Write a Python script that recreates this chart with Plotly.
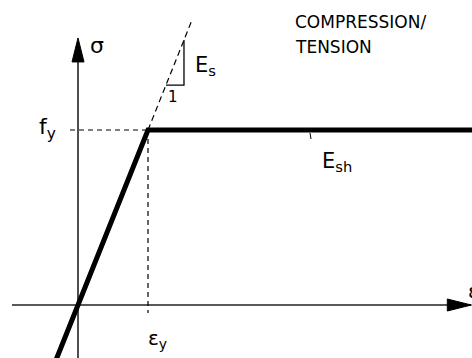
import plotly.graph_objects as go

# Elastic - perfectly plastic steel law, normalised so that eps_y = f_y = 1
eps_y = 1.0
f_y = 1.0
law_strain = [-0.4, 0.0, eps_y, 6.0]
law_stress = [-0.4, 0.0, f_y, f_y]
# elastic branch continued past yield (slope E_s)
ext_strain = [eps_y, 1.63]
ext_stress = [f_y, 1.63]
# slope triangle "1 : E_s"
tri_strain = [1.257, 1.514, 1.514]
tri_stress = [1.257, 1.257, 1.514]

# drawing scale (pixels per unit) and frame
KX, KY = 70.0, 175.0
W, H = 472, 358
x_range = [-78 / KX, (W - 78) / KX]
y_range = [-(H - 305) / KY, 305 / KY]

INK = "black"
FONT = "DejaVu Sans"

fig = go.Figure()

# axes drawn as lines
x_axis_start, x_axis_end = -66 / KX, x_range[1] - 0.01
y_axis_start, y_axis_end = y_range[0] - 0.05, 1.526
fig.add_trace(go.Scatter(x=[x_axis_start, x_axis_end], y=[0, 0], mode="lines",
                         line=dict(color="#222", width=1.6), hoverinfo="skip"))
fig.add_trace(go.Scatter(x=[0, 0], y=[y_axis_start, y_axis_end - 0.05], mode="lines",
                         line=dict(color="#222", width=1.6), hoverinfo="skip"))

# dashed guides
fig.add_trace(go.Scatter(x=[-8 / KX, eps_y], y=[f_y, f_y], mode="lines",
                         line=dict(color=INK, width=1.2, dash="5px,4px"), hoverinfo="skip"))
fig.add_trace(go.Scatter(x=[eps_y, eps_y], y=[f_y, -8 / KY], mode="lines",
                         line=dict(color=INK, width=1.2, dash="5px,4px"), hoverinfo="skip"))
fig.add_trace(go.Scatter(x=ext_strain, y=ext_stress, mode="lines",
                         line=dict(color=INK, width=1.2, dash="6px,4px"), hoverinfo="skip"))
fig.add_trace(go.Scatter(x=tri_strain, y=tri_stress, mode="lines",
                         line=dict(color=INK, width=1.3), hoverinfo="skip"))

# constitutive law
fig.add_trace(go.Scatter(x=law_strain, y=law_stress, mode="lines",
                         line=dict(color=INK, width=5), hoverinfo="skip"))

# small leader for E_sh
fig.add_trace(go.Scatter(x=[(310 - 78) / KX, (311 - 78) / KX],
                         y=[f_y - 3 / KY, f_y - 9 / KY], mode="lines",
                         line=dict(color=INK, width=1), hoverinfo="skip"))

# arrowheads
ah_len, ah_half = 24.0, 6.0
fig.add_shape(type="path", xref="x", yref="y", fillcolor=INK, line=dict(color=INK, width=1),
              path=(f"M {-ah_half / KX} {y_axis_end - ah_len / KY} L 0 {y_axis_end} "
                    f"L {ah_half / KX} {y_axis_end - ah_len / KY} Z"))
fig.add_shape(type="path", xref="x", yref="y", fillcolor=INK, line=dict(color=INK, width=1),
              path=(f"M {x_axis_end - ah_len / KX} {ah_half / KY} L {x_axis_end} 0 "
                    f"L {x_axis_end - ah_len / KX} {-ah_half / KY} Z"))

def label(text, x, y, size, xshift=0, yshift=0, xanchor="center", yanchor="middle"):
    fig.add_annotation(x=x, y=y, text=text, showarrow=False, xref="x", yref="y",
                       xshift=xshift, yshift=yshift, xanchor=xanchor, yanchor=yanchor,
                       font=dict(family=FONT, size=size, color=INK))

label("σ", 0, y_axis_end, 22, xshift=19, yshift=-8)
label("f<sub>y</sub>", 0, f_y, 22, xshift=-31, yshift=2)
label("ε<sub>y</sub>", eps_y, 0, 20, xshift=9, yshift=-34)
label("E<sub>s</sub>", 1.514, 1.40, 21, xshift=22, yshift=-6)
label("1", 1.36, 1.257, 15, yshift=-12)
label("E<sub>sh</sub>", (337 - 78) / KX, f_y, 21, yshift=-32)
label("ε", x_range[1], 0, 20, xshift=-6, yshift=14, xanchor="left")
label("COMPRESSION/", (293 - 78) / KX, (305 - 22) / KY, 17, xanchor="left")
label("TENSION", (293 - 78) / KX, (305 - 47) / KY, 17, xanchor="left")

fig.update_layout(
    width=W, height=H, margin=dict(l=0, r=0, t=0, b=0),
    paper_bgcolor="white", plot_bgcolor="white", showlegend=False,
    xaxis=dict(range=x_range, visible=False, fixedrange=True),
    yaxis=dict(range=y_range, visible=False, fixedrange=True),
)

fig.write_html("out.html")
